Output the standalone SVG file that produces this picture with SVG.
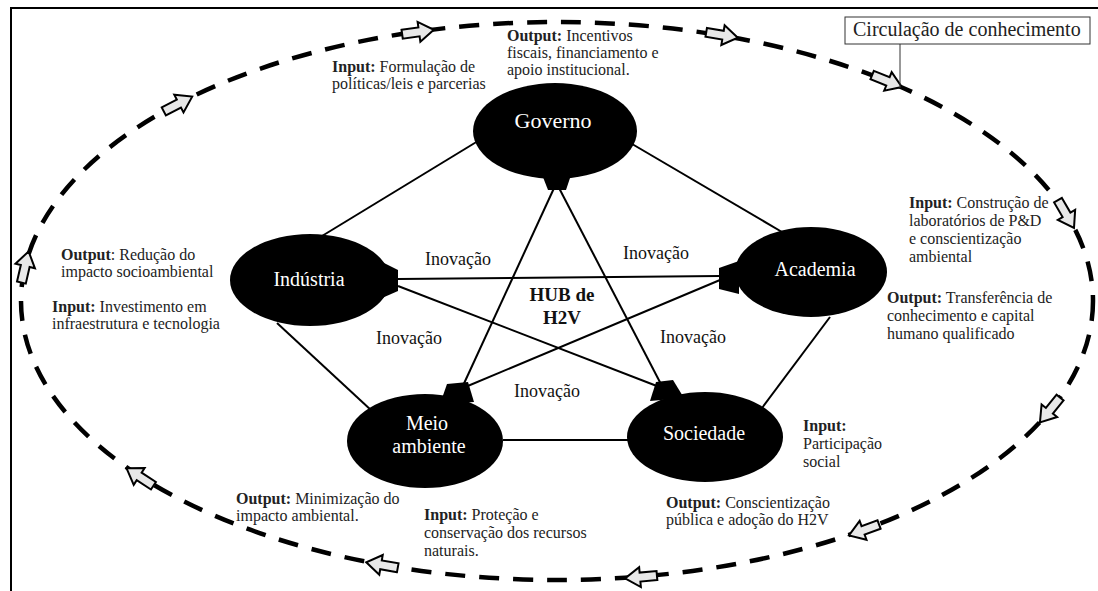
<svg xmlns="http://www.w3.org/2000/svg" xmlns:xlink="http://www.w3.org/1999/xlink" width="1098" height="591" viewBox="0 0 1098 591">
<style>
.t{font-family:"Liberation Serif","Times New Roman",serif;font-size:16px;fill:#222}
.b{font-weight:bold}
.node{fill:#000}
.lbl{font-family:"Liberation Serif","Times New Roman",serif;font-size:20px;fill:#fff;text-anchor:middle}
.inov{font-family:"Liberation Serif","Times New Roman",serif;font-size:18px;fill:#111;text-anchor:middle}
.hub{font-family:"Liberation Serif","Times New Roman",serif;font-size:19px;font-weight:bold;fill:#111;text-anchor:middle}
.ln{stroke:#000;stroke-width:2;fill:none}
</style>
<defs>
<path id="arr" d="M-16,-4.5 H1 V-10 L16,0 L1,10 V4.5 H-16 Z" fill="#e8e8e8" stroke="#000" stroke-width="2" stroke-linejoin="miter"/>
</defs>
<rect x="0" y="0" width="1098" height="591" fill="#fff"/>
<rect x="11" y="8" width="1100" height="600" fill="none" stroke="#000" stroke-width="2"/>

<g id="circulacao">
<ellipse cx="557" cy="301" rx="536" ry="279" fill="none" stroke="#000" stroke-width="4.5" stroke-dasharray="20 14"/>
<use xlink:href="#arr" transform="translate(178,104) rotate(-27.5)"/>
<use xlink:href="#arr" transform="translate(418,32) rotate(-7.9)"/>
<use xlink:href="#arr" transform="translate(722,35) rotate(9.6)"/>
<use xlink:href="#arr" transform="translate(887,81) rotate(22)"/>
<use xlink:href="#arr" transform="translate(1066,214) rotate(60)"/>
<use xlink:href="#arr" transform="translate(1050,410) rotate(129)"/>
<use xlink:href="#arr" transform="translate(864,530) rotate(160)"/>
<use xlink:href="#arr" transform="translate(641,577) rotate(175)"/>
<use xlink:href="#arr" transform="translate(382,565) rotate(190)"/>
<use xlink:href="#arr" transform="translate(140,477) rotate(213)"/>
<use xlink:href="#arr" transform="translate(25,267) rotate(-77)"/>
</g>

<g id="legenda">
<rect x="845" y="17" width="245" height="27" fill="#fff" stroke="#333" stroke-width="1"/>
<text x="853" y="36" class="t" style="font-size:20px">Circulação de conhecimento</text>
<line x1="900" y1="44" x2="900" y2="88" stroke="#333" stroke-width="1"/>
</g>

<g id="connectors">
<line class="ln" x1="478" y1="141" x2="322" y2="236"/>
<line class="ln" x1="627" y1="141" x2="782" y2="232"/>
<line class="ln" x1="555" y1="186" x2="461" y2="390"/>
<line class="ln" x1="558" y1="186" x2="663" y2="388"/>
<line class="ln" x1="398" y1="279" x2="720" y2="276"/>
<line class="ln" x1="398" y1="286" x2="662" y2="388"/>
<line class="ln" x1="720" y1="280" x2="463" y2="388"/>
<line class="ln" x1="277" y1="323" x2="372" y2="411"/>
<line class="ln" x1="830" y1="317" x2="762" y2="408"/>
<line class="ln" x1="503" y1="440" x2="628" y2="440"/>
</g>

<g id="governo">
<ellipse class="node" cx="555" cy="131" rx="82" ry="48"/>
<polygon class="node" points="541,172 572,172 566,190 548,190"/>
<text class="lbl" x="553" y="128" style="font-size:22px">Governo</text>
</g>
<g id="industria">
<ellipse class="node" cx="310" cy="280" rx="80" ry="46"/>
<polygon class="node" points="382,262 398,270 398,291 382,298"/>
<text class="lbl" x="309" y="286">Indústria</text>
</g>
<g id="academia">
<ellipse class="node" cx="811" cy="272" rx="76" ry="45"/>
<polygon class="node" points="739,261 719,268 719,289 739,294"/>
<text class="lbl" x="815" y="276">Academia</text>
</g>
<g id="meio-ambiente">
<ellipse class="node" cx="425" cy="441" rx="78" ry="47"/>
<polygon class="node" points="447,384 468,382 474,402 440,404"/>
<text class="lbl" x="427" y="430">Meio</text>
<text class="lbl" x="429" y="453">ambiente</text>
</g>
<g id="sociedade">
<ellipse class="node" cx="705" cy="437" rx="78" ry="45"/>
<polygon class="node" points="656,382 673,380 684,398 650,401"/>
<text class="lbl" x="704" y="440">Sociedade</text>
</g>

<g id="hub">
<text class="hub" x="562" y="301">HUB de</text>
<text class="hub" x="562" y="324">H2V</text>
</g>

<g id="inovacao">
<text class="inov" x="458" y="265">Inovação</text>
<text class="inov" x="656" y="259">Inovação</text>
<text class="inov" x="409" y="344">Inovação</text>
<text class="inov" x="693" y="343">Inovação</text>
<text class="inov" x="547" y="397">Inovação</text>
</g>

<g id="anotacoes">
<text class="t" x="332" y="72"><tspan class="b">Input:</tspan> Formulação de<tspan x="332" dy="17">políticas/leis e parcerias</tspan></text>
<text class="t" x="507" y="41"><tspan class="b">Output:</tspan> Incentivos<tspan x="507" dy="17">fiscais, financiamento e</tspan><tspan x="507" dy="17">apoio institucional.</tspan></text>
<text class="t" x="909" y="208"><tspan class="b">Input:</tspan> Construção de<tspan x="909" dy="18">laboratórios de P&amp;D</tspan><tspan x="909" dy="18">e conscientização</tspan><tspan x="909" dy="18">ambiental</tspan></text>
<text class="t" x="887" y="303"><tspan class="b">Output:</tspan> Transferência de<tspan x="887" dy="18">conhecimento e capital</tspan><tspan x="887" dy="18">humano qualificado</tspan></text>
<text class="t" x="61" y="260"><tspan class="b">Output</tspan>: Redução do<tspan x="61" dy="17">impacto socioambiental</tspan></text>
<text class="t" x="52" y="312"><tspan class="b">Input:</tspan> Investimento em<tspan x="52" dy="17">infraestrutura e tecnologia</tspan></text>
<text class="t" x="803" y="431"><tspan class="b">Input:</tspan><tspan x="803" dy="18">Participação</tspan><tspan x="803" dy="18">social</tspan></text>
<text class="t" x="666" y="508"><tspan class="b">Output:</tspan> Conscientização<tspan x="666" dy="17">pública e adoção do H2V</tspan></text>
<text class="t" x="236" y="504"><tspan class="b">Output:</tspan> Minimização do<tspan x="236" dy="17">impacto ambiental.</tspan></text>
<text class="t" x="424" y="520"><tspan class="b">Input:</tspan> Proteção e<tspan x="424" dy="18">conservação dos recursos</tspan><tspan x="424" dy="18">naturais.</tspan></text>
</g>
</svg>
